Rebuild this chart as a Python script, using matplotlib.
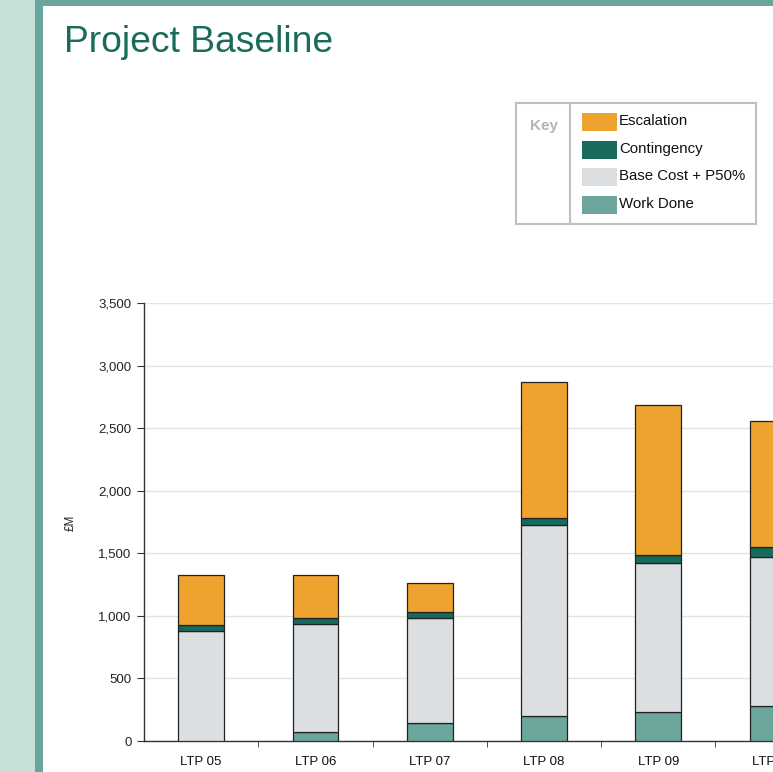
import matplotlib
matplotlib.use("Agg")
import matplotlib.pyplot as plt
from matplotlib.patches import Rectangle
import numpy as np

plt.rcParams['font.family'] = ['Liberation Sans', 'DejaVu Sans']

categories = ["LTP 05", "LTP 06", "LTP 07", "LTP 08", "LTP 09", "LTP 10"]
work_done = [0, 72, 144, 196, 234, 280]
base_cost = [879, 861, 839, 1529, 1191, 1190]
contingency = [50, 50, 48, 56, 64, 80]
escalation = [396, 347, 232, 1086, 1199, 1010]

series_names = ["Work Done", "Base Cost + P50%", "Contingency", "Escalation"]
series_vals = [work_done, base_cost, contingency, escalation]
series_cols = ["#6ba59b", "#dcdfe2", "#176a5c", "#eea32e"]

W, H = 773, 772
fig = plt.figure(figsize=(W / 100, H / 100), dpi=100)
fig.patch.set_facecolor("white")

# decoration overlay in pixel coordinates
deco = fig.add_axes([0, 0, 1, 1])
deco.set_xlim(0, W)
deco.set_ylim(H, 0)
deco.axis("off")
deco.add_patch(Rectangle((0, 0), 35, H, color="#c6dfd9", lw=0))
deco.add_patch(Rectangle((35, 0), 8, H, color="#6aa59b", lw=0))
deco.add_patch(Rectangle((35, 0), W - 35, 6, color="#6aa59b", lw=0))
deco.text(64, 52, "Project Baseline", fontsize=26.8, color="#1a6b5c", va="baseline", ha="left")

# legend box
deco.add_patch(Rectangle((516, 103), 240, 121, fill=False, ec="#c0c0c0", lw=1.5))
deco.plot([570, 570], [103, 224], color="#c0c0c0", lw=1.5)
deco.text(544, 126, "Key", fontsize=11, fontweight="bold", color="#b5b5b5", ha="center", va="center")
leg_order = [3, 2, 1, 0]
for k, idx in enumerate(leg_order):
    y0 = 113 + k * 27.5
    deco.add_patch(Rectangle((582, y0), 35, 18, color=series_cols[idx], lw=0))
    deco.text(619, y0 + 8, series_names[idx], fontsize=10.8, color="#111111", ha="left", va="center")

# main axes
left = 144 / W
bottom = (H - 741) / H
height = 438 / H
width_px = 6 * 114.3
ax = fig.add_axes([left, bottom, width_px / W, height])
ax.set_facecolor("none")
x = np.arange(len(categories))
bottoms = np.zeros(len(categories))
for vals, col, name in zip(series_vals, series_cols, series_names):
    ax.bar(x, vals, bottom=bottoms, width=0.40, color=col, edgecolor="#222222", linewidth=0.9, label=name, zorder=3)
    bottoms += np.array(vals)

ax.set_xlim(-0.5, len(categories) - 0.5)
ax.set_ylim(0, 3500)
ax.set_yticks(np.arange(0, 3501, 500))
ax.set_yticklabels([f"{v:,}" for v in range(0, 3501, 500)], fontsize=9.5, color="#222222")
ax.set_xticks(x)
ax.set_xticklabels(categories, fontsize=9.5, color="#111111")
ax.tick_params(axis="x", which="major", length=0, pad=11)
ax.set_xticks(np.arange(0.5, len(categories) - 0.5, 1.0), minor=True)
ax.tick_params(axis="x", which="minor", length=4, direction="out", color="#333333")
ax.tick_params(axis="y", length=5, direction="out", color="#333333", pad=4)
ax.grid(axis="y", color="#e3e3e3", lw=1, zorder=0)
for s in ["top", "right"]:
    ax.spines[s].set_visible(False)
for s in ["left", "bottom"]:
    ax.spines[s].set_color("#333333")
    ax.spines[s].set_linewidth(1)
ax.set_ylabel("£M", fontsize=8.5, color="#222222")
ax.yaxis.set_label_coords((77 - 144) / width_px, (741 - 523) / 438)

fig.savefig("out.png", dpi=100, facecolor="white")
